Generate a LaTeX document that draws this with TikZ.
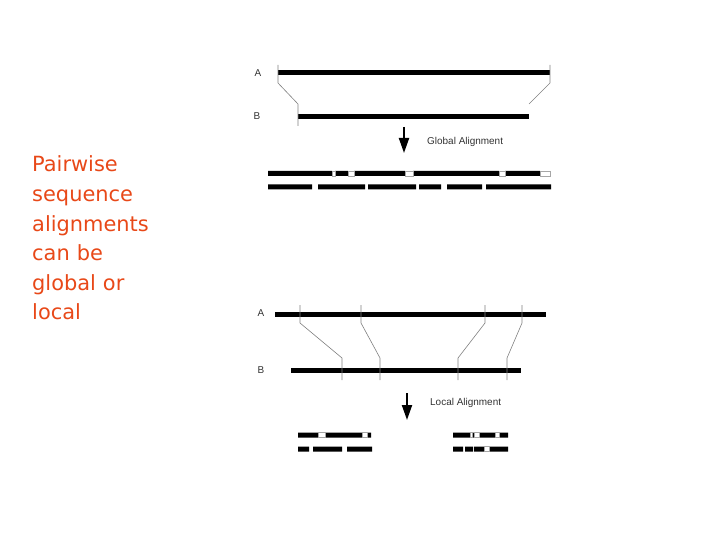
\documentclass[tikz,border=0pt]{standalone}
\usepackage{fontspec}
\setsansfont{Liberation Sans}
\newfontfamily\bigfont{DejaVu Sans}
\usetikzlibrary{arrows.meta}

\definecolor{titlered}{RGB}{232,72,24}
\tikzstyle{seq}=[draw, line width=5bp]
\tikzstyle{tick}=[draw, gray, line width=0.6bp]
\tikzstyle{lbl}=[inner sep=0pt, font=\sffamily\fontsize{10}{11}\selectfont, text=black!80]
\tikzstyle{step arrow}=[draw, line width=2bp, -{Triangle[width=10bp,length=15bp]}]
\tikzstyle{gap}=[fill=white, draw=gray!70, line width=0.4bp]

\begin{document}
\begin{tikzpicture}[x=1bp, y=-1bp]
    \useasboundingbox (0,0) rectangle (720,540);

    % caption
    \node[anchor=base west, inner sep=0pt, text width=150bp, align=left,
      text=titlered, font=\bigfont\fontsize{21}{29.7}\selectfont] (caption) at (32,172)
      {Pairwise\\sequence\\alignments\\can be\\global or\\local};

    % global alignment
    \node[lbl] (gA) at (258,73) {A};
    \node[lbl] (gB) at (257,116) {B};
    \coordinate (ga1) at (278,73);
    \coordinate (ga2) at (550,73);
    \coordinate (gb1) at (298,117);
    \coordinate (gb2) at (529,117);
    \path[seq] (ga1) -- (ga2) (gb1) -- (gb2);
    \path[tick]
    (278,65) -- (278,83) -- (298,104) -- (298,126)
    (550,65) -- (550,83) -- (529,104)
    ;
    \coordinate (gtop) at (404,127);
    \coordinate (gbot) at (404,153);
    \path[step arrow] (gtop) -- (gbot);
    \node[lbl, anchor=west] (gtext) at (427,142) {Global Alignment};
    \fill (268,171) rectangle (332,176) (335,171) rectangle (348,176)
      (354,171) rectangle (405,176) (413,171) rectangle (499,176)
      (505,171) rectangle (540,176);
    \path[gap] (332,171) rectangle (335,176) (348,171) rectangle (354,176)
      (405,171) rectangle (413,176) (499,171) rectangle (505,176)
      (540,171) rectangle (550,176);
    \fill (268,184.5) rectangle (312,189.5) (318,184.5) rectangle (365,189.5)
      (368,184.5) rectangle (416,189.5) (419,184.5) rectangle (441,189.5)
      (447,184.5) rectangle (482,189.5) (486,184.5) rectangle (551,189.5);

    % local alignment
    \node[lbl] (lA) at (261,313) {A};
    \node[lbl] (lB) at (261,370) {B};
    \coordinate (la1) at (275,314);
    \coordinate (la2) at (546,314);
    \coordinate (lb1) at (291,370);
    \coordinate (lb2) at (521,370);
    \path[seq] (la1) -- (la2) (lb1) -- (lb2);
    \path[tick]
    (300,305) -- (300,323) -- (342,358) -- (342,380)
    (361,305) -- (361,323) -- (380,358) -- (380,380)
    (485,305) -- (485,323) -- (458,358) -- (458,380)
    (522,305) -- (522,323) -- (507,358) -- (507,380)
    ;
    \coordinate (ltop) at (407,393);
    \coordinate (lbot) at (407,420);
    \path[step arrow] (ltop) -- (lbot);
    \node[lbl, anchor=west] (ltext) at (430,403) {Local Alignment};
    \fill (298,432.5) rectangle (318,437.5) (325,432.5) rectangle (362,437.5)
      (367,432.5) rectangle (371,437.5)
      (453,432.5) rectangle (470,437.5) (472,432.5) rectangle (474,437.5)
      (479,432.5) rectangle (495,437.5) (499,432.5) rectangle (508,437.5);
    \path[gap] (318,432.5) rectangle (325,437.5) (362,432.5) rectangle (367,437.5)
      (470,432.5) rectangle (472,437.5) (474,432.5) rectangle (479,437.5)
      (495,432.5) rectangle (499,437.5);
    \fill (298,446.5) rectangle (309,451.5) (313,446.5) rectangle (342,451.5)
      (347,446.5) rectangle (372,451.5)
      (453,446.5) rectangle (463,451.5) (465,446.5) rectangle (473,451.5)
      (474,446.5) rectangle (484,451.5) (489,446.5) rectangle (508,451.5);
    \path[gap] (484,446.5) rectangle (489,451.5);
\end{tikzpicture}
\end{document}
